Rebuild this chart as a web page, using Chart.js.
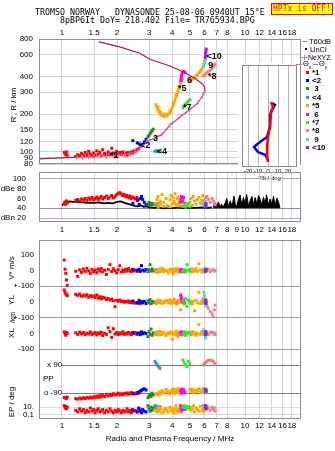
<!DOCTYPE html>
<html>
<head>
<meta charset="utf-8">
<title>Dynasonde ionogram</title>
<script src="https://cdn.jsdelivr.net/npm/chart.js@4.4.0/dist/chart.umd.min.js"></script>
<style>
  body { margin: 0; background: #fff; }
  #page { position: relative; width: 335px; height: 451px; overflow: hidden; background: #fff;
          font-family: "Liberation Sans", Arial, sans-serif; color: #000; }
  #page canvas { position: absolute; }
  .txt { position: absolute; white-space: pre; line-height: 1; }
  .mono { font-family: "DejaVu Sans Mono", monospace; }
</style>
</head>
<body>
<div id="page">
  <canvas id="mainChart" width="335" height="169" style="left:0;top:0"></canvas>
  <canvas id="tiltChart" width="62" height="120" style="left:238px;top:62px"></canvas>
  <canvas id="dbChart" width="335" height="68" style="left:0;top:168px"></canvas>
  <canvas id="lowerChart" width="335" height="215" style="left:0;top:236px"></canvas>
</div>
<script>
const FONT = '"Liberation Sans", Arial, sans-serif';

// axis ticks
const topFreqTicks = [1, 1.5, 2, 3, 4, 5, 6, 7, 8, 10, 12, 14, 16, 18];
const dbFreqTicks = [1, 1.5, 2, 3, 4, 5, 6, 7, 8, 9, 10, 12, 14, 16, 18];
const heightTicks = [80, 90, 100, 120, 150, 200, 300, 400, 600, 800];
const dbTicks = [20, 40, 60, 80, 100];
const dbTickLabels = ['dBn 20', '40', '60', 'dBe 80', '100'];
const tiltTicks = [-20, -10, 0, 10, 20];

// echo modes
const modeNames = ['*1', '<2', ' 3', '<4', '*5', ' 6', '*7', '*8', ' 9', '<10'];
const modeColors = ['#ff0000', '#0000ff', '#228b22', '#20a8a0', '#ffa500',
                    '#ff00ff', '#2ee82e', '#f08080', '#40e0d0', '#9a20e0'];

// echoes: frequency (MHz) per mode
const echoFreq = [
  [1.03,1.04,1.05,1.06,1.07, 1.19,1.22,1.25,1.28,1.31,1.34,1.37,1.40,1.43,1.46, 1.49,1.52,1.55,1.58,1.61,1.64,1.67,1.71,1.75,1.79,
   1.83,1.87,1.91,1.95,1.99,2.03,2.07,2.11,2.15,2.19, 2.23,2.27,2.31,2.35,2.39,2.43,2.47,2.52,2.57,2.62],
  [2.44,2.58,2.64,2.68,2.72,2.76,2.82,2.88],
  [2.95,2.99,3.03,3.07,3.11,3.15],
  [3.22,3.27,3.32,3.38,3.43],
  [3.26,3.30,3.35,3.40,3.45,3.52,3.60,3.70,3.80,3.89,3.95,4.00,4.05,4.10,4.15,4.20,4.25,4.30,4.35,4.40,4.45,4.50,4.55,
   3.35,3.45,3.60,3.75,3.90,4.05,4.20,4.35,
   5.00,5.08,5.15,5.22,5.30,5.40,5.50,5.60,5.70,5.80,5.88,5.95,6.00,6.05],
  [4.45,4.48,4.50,4.52,4.56,4.62,4.70],
  [4.58,4.66,4.74,4.82,4.90,5.00],
  [5.90,6.00,6.10,6.20,6.30,6.45,6.60,6.70,6.80,6.86],
  [5.95,6.00,6.03,6.06,6.09],
  [6.06,6.08,6.10,6.12,6.13]
];
// virtual range R' (km)
const echoRange = [
  [99,97,95,100,94, 92,95,93,97,94,99,95,101,96,93, 98,94,102,96,99,93,104,97,95,100,
   96,107,98,94,101,97,99,95,100,96, 98,94,99,97,100,98,102,101,104,106],
  [123,118,116,113,112,115,120,126],
  [132,136,140,144,148,152],
  [101,102,101,100,101],
  [238,228,218,208,200,195,192,193,197,205,215,226,238,250,262,275,290,305,320,336,352,368,384,
   228,210,200,201,214,246,285,330,
   368,375,382,390,396,404,414,428,442,458,480,505,530,555],
  [372,388,404,420,434,440,432],
  [226,232,240,248,255,262],
  [405,410,420,430,440,450,462,480,495,505],
  [485,505,525,545,565],
  [570,595,620,645,665]
];
// amplitude (dB)
const echoAmp = [
  [50,53,48,55,51, 56,58,55,59,57,60,56,61,58,62, 57,60,63,58,61,64,59,62,65,60,
   63,66,61,64,68,70,72,69,66,68, 64,66,62,65,60,63,61,59,62,58],
  [50,56,48,60,64,58,52,47],
  [48,52,46,50,47,49],
  [48,46,50,47,49],
  [50,58,64,46,55,68,52,60,44,57,66,49,62,54,70,47,59,63,51,56,45,61,53,
   42,48,44,46,43,50,47,45,
   52,60,46,64,55,48,58,62,50,56,66,49,54,45],
  [52,58,64,60,55,62,50],
  [44,48,42,46,50,43],
  [48,56,62,64,58,52,60,55,50,47],
  [46,52,48,54,50],
  [42,46,50,44,48]
];
// Doppler V* (m/s)
const echoVstar = [
  [66,8,-18,-60,-94, -5,-38,4,-12,10,-6,14,-3,-20,6, -8,3,-14,9,-4,12,-9,2,-25,7,
   37,-6,11,-2,-15,5,30,-10,3,-7, 8,-4,12,-2,-9,6,-3,4,-6,2],
  [4,-2,8,-6,31,2,-4,6],
  [-8,6,37,-4,10,-2],
  [-4,6,-10,2,-6],
  [-6,4,-12,8,-2,14,-8,2,-16,6,-4,10,-20,4,-6,12,-2,8,-10,2,6,-8,4,
   0,-4,6,-2,4,-6,2,-10,
   6,-4,10,-8,2,12,-6,43,4,-10,6,-2,8,-4],
  [2,-6,8,-2,4,-8,0],
  [-4,6,-10,37,2,-6],
  [4,-6,10,-2,8,-8,2,6,-4,0],
  [8,-10,4,-4,12],
  [2,-6,4,-2,6]
];
// location YL (km)
const echoYL = [
  [76,60,52,46,40, 48,42,50,36,44,38,46,30,40,34, 38,28,45,24,34,20,30,26,16,22,
   12,18,8,-30,10,4,12,2,6,-2, 4,0,6,-4,2,-6,-2,-8,-4,-10],
  [6,-4,10,-8,2,-6,4,-10],
  [8,-6,14,-12,4,-2],
  [4,-8,2,-4,6],
  [4,-8,12,-4,6,-12,2,10,-6,14,-10,4,-2,18,-8,6,-14,10,-4,8,-50,2,-6,
   0,6,-4,8,-2,4,-6,10,
   -8,6,-14,4,-56,10,-6,62,-10,4,-8,12,-2,6],
  [44,30,20,6,0,12,-6],
  [6,-12,20,-28,10,-4],
  [20,4,-10,-26,-40,-60,-76,-94,-50,-20],
  [62,40,10,-12,-26],
  [8,-4,14,-10,2]
];
// location XL (km)
const echoXL = [
  [10,-4,-12,6,0, 4,-6,8,-2,6,-8,2,-4,10,-6, 0,6,-10,4,-2,8,-14,2,-6,36,
   12,-25,30,-4,6,-8,4,-2,10,-6, 2,-4,6,0,-8,4,-2,6,-4,2],
  [6,-4,2,-8,10,-2,4,0],
  [-20,12,-6,28,-12,4],
  [2,-6,8,-2,4],
  [-4,8,-10,2,12,-6,4,-14,6,-2,10,-37,4,-8,2,14,-6,-20,6,-2,8,-10,4,
   2,-6,8,-4,6,-2,10,-8,
   4,-8,12,-4,6,-12,2,56,-6,10,-4,8,-10,2],
  [6,-4,10,-8,2,-2,4],
  [-6,10,-14,4,8,-2],
  [8,-4,12,2,-8,6,10,-2,4,-6],
  [24,10,-4,-18,-30],
  [6,-8,12,-4,2]
];
// polarization PP (deg)
const echoPP = [
  [-116,-120,-118,-122,-114, -124,-128,-120,-126,-118,-124,-116,-122,-114,-120,
   -112,-118,-108,-116,-104,-112,-100,-110,-98,-106, -96,-104,-92,-100,-96,-88,-100,-92,-98,-90,
   -94,-86,-96,-90,-84,-92,-88,-94,-86,-90],
  [-92,-86,-80,-76,-70,-64,-60,-68],
  [-118,-106,-96,-110,-88,-100],
  [120,108,96,84,74],
  [-96,-88,-100,-80,-92,-72,-86,-64,-78,-94,-70,-84,-60,-76,-90,-66,-82,-58,-74,-86,-68,-80,-62,
   -98,-90,-84,-76,-88,-70,-80,-74,
   -64,-78,-60,-72,-84,-66,-76,-58,-70,-82,-62,-74,-68,-80],
  [-70,-80,-62,-90,-74,-66,-84],
  [128,110,96,84,120,104],
  [96,104,112,120,126,128,124,118,110,100],
  [-60,-66,-74,-82,-88],
  [-62,-70,-78,-66,-74]
];
// phase error EP (deg)
const echoEP = [
  [12,9,11,8,10, 6,4,8,5,7,3,6,4,9,5, 7,3,6,8,4,5,7,3,6,4, 8,5,3,6,4,7,5,3,6,4, 5,8,4,6,3,7,5,6,4,9],
  [6,4,8,5,3,7,5,4],
  [12,8,5,10,6,9],
  [12,9,11,8,10],
  [6,4,9,5,11,3,7,8,4,10,6,5,9,3,7,12,4,8,6,5,10,4,7,
   5,8,4,6,9,3,7,5,
   10,6,8,12,4,9,7,5,11,6,8,4,9,7],
  [12,8,10,6,9,11,7],
  [10,12,9,11,8,10],
  [12,10,8,11,9,6,10,7,9,5],
  [12,11,10,12,9],
  [10,12,9,11,8]
];

// mode labels on the ionogram
const labelFreq = [1.83, 2.67, 3.14, 3.30, 4.30, 4.82, 4.58, 6.27, 6.30, 6.15];
const labelRange = [93, 112, 128, 100, 320, 375, 228, 400, 495, 575];

// true-height profile (plasma frequency MHz, height km)
const profileFreq = [0.75,1.07,1.6,2.1,2.45,2.67,2.91,3.22,3.52,3.89,4.41,5.00,5.54,5.85,6.04,
                     6.02,5.89,5.68,5.20,4.58,3.89,3.02,2.67,2.07,1.59];
const profileHeight = [88,90,92,95,99,107,121,129,138,164,190,218,248,280,311,
                       330,345,362,395,437,487,551,615,692,758];
// NeXYZ bottomside
const nexyzFreq = [1.20,1.30,1.40,1.50,1.62,1.75,1.90,2.05,2.20,2.35,2.50,2.67,2.91,3.22,3.52,3.89,4.41,5.00,5.54,5.85,6.04];
const nexyzHeight = [90,90,91,91,92,92,93,94,95,97,100,107,121,129,138,164,190,218,248,280,311];

// tilt inset
const tiltXDeg = [3,5,3,2,0,-1,-1,0];
const tiltXHeight = [261,239,215,168,140,117,98,90];
const tiltYDeg = [4,7,4,2,2,-1,-8,-14,-10,-3,0,0];
const tiltYHeight = [256,248,226,207,168,140,128,117,107,102,93,90];

// unclassified amplitude trace (dB)
const noiseFreqLow = [1.0,1.03,1.06,1.1,1.15,1.2,1.3,1.4,1.5,1.6,1.7,1.8,1.9,2.0,2.1,2.2,2.3,2.4,2.5,2.6,
                      2.7,2.8,2.9,3.0,3.2,3.4,3.6,3.8,4.0,4.3,4.6,5.0,5.4,5.8,6.2,6.6];
const noiseAmpLow = [46,49,52,54,53,53,52,51,51,52,50,51,50,53,54,51,49,47,45,44,
                     46,43,44,42,41,41,40,41,40,42,40,41,41,42,41,42];
const noiseFreqHigh = [6.7,6.85,7.0,7.15,7.3,7.45,7.6,7.8,7.95,8.1,8.3,8.5,8.7,8.85,9.0,9.2,9.4,9.6,9.8,10.0,
                       10.2,10.45,10.65,10.9,11.1,11.35,11.6,11.85,12.1,12.35,12.6,12.85,13.1,13.4,13.7,14.0,14.3,14.6,14.9,15.2,15.5];
const noiseAmpHigh = [42,52,44,53,43,48,42,52,60,44,55,45,65,47,43,58,67,46,62,50,
                      68,44,55,64,47,62,49,66,58,46,63,50,67,47,59,48,64,45,61,54,41];

// lower panel: stacked rows
const lowerTickRow = [0, 0, 0, 1, 1, 2, 2, 3, 3, 4, 4];
const lowerTickValue = [100, 0, -100, 0, -100, 0, -100, 90, -90, 10, 0.1];
const lowerTickText = ['100', '0', '+-100', '0', '+-100', '0', '-100', '', '', '10.', '0.1'];

const F_MIN = 0.75, F_MAX = 20.2;
const lowerRows = [
  { values: echoVstar, toSlot: v => 151 + v * 0.16 },
  { values: echoYL, toSlot: v => 119 + v * 0.16 },
  { values: echoXL, toSlot: v => 87 + v * 0.16 },
  { values: echoPP, toSlot: v => 40 + v * 14 / 90 },
  { values: echoEP, toSlot: v => 4 + v * 0.8 }
];
const lowerGrid = ['', '', '#9c9c9c', '', '#9c9c9c', '', '#9c9c9c', '#7c7c7c', '#7c7c7c', '#dadada', '#dadada'];

const pts = (xs, ys) => xs.map((x, i) => ({ x, y: ys[i] }));

const framePlugin = {
  id: 'frame',
  afterDatasetsDraw(chart, args, opts) {
    const { ctx, chartArea: a } = chart;
    ctx.save();
    ctx.strokeStyle = opts.color || '#8c8c8c';
    ctx.lineWidth = 1;
    ctx.strokeRect(Math.round(a.left) + 0.5, Math.round(a.top) + 0.5, Math.round(a.width) - 1, Math.round(a.height) - 1);
    ctx.restore();
  }
};

const whitePlugin = {
  id: 'whiteBack',
  beforeDraw(chart) {
    const c = chart.ctx;
    c.save();
    c.fillStyle = '#fff';
    c.fillRect(0, 0, chart.width, chart.height);
    c.restore();
  }
};

const modeLabelPlugin = {
  id: 'modeLabels',
  afterDatasetsDraw(chart) {
    const { ctx, scales: { x, y } } = chart;
    ctx.save();
    ctx.font = 'bold 9px ' + FONT;
    ctx.fillStyle = '#000';
    ctx.textBaseline = 'middle';
    modeNames.forEach((name, i) => {
      ctx.fillText(name.trim(), x.getPixelForValue(labelFreq[i]), y.getPixelForValue(labelRange[i]));
    });
    ctx.restore();
  }
};

function baseOptions(padding) {
  return {
    responsive: false,
    animation: false,
    events: [],
    layout: { padding },
    plugins: { legend: { display: false }, tooltip: { enabled: false }, frame: { color: '#8c8c8c' } }
  };
}

function freqAxis(position, tickValues, axisHeight, padding, extra = {}) {
  return Object.assign({
    type: 'logarithmic',
    position,
    min: F_MIN,
    max: F_MAX,
    afterBuildTicks: s => { s.ticks = tickValues.map(value => ({ value })); },
    afterFit: s => { s.height = axisHeight; s.paddingLeft = 0; s.paddingRight = 0; },
    ticks: { autoSkip: false, maxRotation: 0, padding, color: '#000',
             font: { family: FONT, size: 8 }, callback: v => String(v) },
    grid: { color: '#d4d4d4', drawTicks: false },
    border: { display: false }
  }, extra);
}

function leftAxis(cfg, padding) {
  return Object.assign({
    afterFit: s => { s.width = 39; s.paddingTop = 0; s.paddingBottom = 0; },
    border: { display: false }
  }, cfg, {
    ticks: Object.assign({ autoSkip: false, padding, color: '#000', font: { family: FONT, size: 8 } }, cfg.ticks)
  });
}

function modePoints(i, xs, ys, radius) {
  return {
    data: pts(xs, ys),
    pointStyle: 'rect',
    pointRadius: radius,
    pointBackgroundColor: modeColors[i],
    pointBorderWidth: 0,
    showLine: false,
    order: 20 - i
  };
}

// ---------- ionogram ----------
const mainDatasets = modeNames.map((n, i) => modePoints(i, echoFreq[i], echoRange[i], 2.1));
mainDatasets.push({
  data: pts(profileFreq, profileHeight), showLine: true, pointRadius: 0,
  borderColor: '#a41a4c', borderWidth: 1.2, order: 1
});
mainDatasets.push({
  data: pts(nexyzFreq, nexyzHeight), showLine: true, pointStyle: 'line', rotation: 90,
  pointRadius: 2.5, pointBorderColor: '#e8709c', pointBorderWidth: 1,
  borderColor: '#e8709c', borderWidth: 1, order: 0
});

new Chart(document.getElementById('mainChart'), {
  type: 'scatter',
  data: { datasets: mainDatasets },
  options: Object.assign(baseOptions({ left: 0, top: 0, right: 34, bottom: 0 }), {
    scales: {
      x: freqAxis('top', topFreqTicks, 39, 1),
      y: leftAxis({
        type: 'logarithmic', min: 80, max: 800,
        afterBuildTicks: s => { s.ticks = heightTicks.map(value => ({ value })); },
        ticks: { callback: v => String(v) },
        grid: { color: '#d4d4d4', drawTicks: false }
      }, 6)
    }
  }),
  plugins: [framePlugin, modeLabelPlugin]
});

// ---------- tilt inset ----------
new Chart(document.getElementById('tiltChart'), {
  type: 'scatter',
  data: {
    datasets: [
      { data: pts(tiltXDeg, tiltXHeight), showLine: true, pointRadius: 0, borderColor: '#ff0000', borderWidth: 2.5, order: 0 },
      { data: pts(tiltYDeg, tiltYHeight), showLine: true, pointRadius: 0, borderColor: '#0000ff', borderWidth: 2.5, order: 1 }
    ]
  },
  options: Object.assign(baseOptions({ left: 4, top: 3, right: 3, bottom: 0 }), {
    scales: {
      x: {
        type: 'linear', position: 'bottom', min: -26, max: 29,
        afterBuildTicks: s => { s.ticks = tiltTicks.map(value => ({ value })); },
        afterFit: s => { s.height = 15; s.paddingLeft = 0; s.paddingRight = 0; },
        ticks: { autoSkip: false, maxRotation: 0, padding: 1, color: '#000', font: { family: FONT, size: 6 }, callback: v => String(v) },
        grid: { color: '#b4b4b4', drawTicks: false },
        border: { display: false },
        title: { display: true, text: 'Tilt / deg', color: '#000', font: { family: FONT, size: 6 }, padding: 0 }
      },
      y: { type: 'logarithmic', min: 82, max: 504, display: false }
    }
  }),
  plugins: [whitePlugin, framePlugin]
});

// ---------- amplitude panel ----------
const dbDatasets = modeNames.map((n, i) => modePoints(i, echoFreq[i], echoAmp[i], 2.1));
dbDatasets.push({
  data: pts(noiseFreqLow, noiseAmpLow), showLine: true, pointRadius: 0,
  borderColor: '#000', borderWidth: 1.8, order: 40
});
dbDatasets.push({
  data: pts(noiseFreqHigh, noiseAmpHigh), showLine: true, pointRadius: 0,
  borderColor: '#000', borderWidth: 1, backgroundColor: '#000', fill: { value: 40 }, order: 41
});
const dbGrid = { 20: '#a8a8ec', 40: '#8c8c8c', 100: '#a8a8a8' };

new Chart(document.getElementById('dbChart'), {
  type: 'scatter',
  data: { datasets: dbDatasets },
  options: Object.assign(baseOptions({ left: 0, top: 2, right: 34, bottom: 0 }), {
    scales: {
      x: freqAxis('bottom', dbFreqTicks, 14, 3),
      y: leftAxis({
        type: 'linear', min: 12, max: 114,
        afterBuildTicks: s => { s.ticks = dbTicks.map(value => ({ value })); },
        ticks: { callback: v => dbTickLabels[dbTicks.indexOf(v)] },
        grid: { color: c => dbGrid[c.tick.value] || 'rgba(0,0,0,0)', drawTicks: false }
      }, 13)
    }
  }),
  plugins: [framePlugin]
});

// ---------- Doppler / location / polarization panel ----------
const lowerSlots = lowerTickRow.map((r, i) => lowerRows[r].toSlot(lowerTickValue[i]));
const lowerDatasets = modeNames.map((n, i) => {
  const xs = [], ys = [];
  lowerRows.forEach(row => {
    row.values[i].forEach((v, k) => { xs.push(echoFreq[i][k]); ys.push(row.toSlot(v)); });
  });
  return modePoints(i, xs, ys, 2.1);
});

new Chart(document.getElementById('lowerChart'), {
  type: 'scatter',
  data: { datasets: lowerDatasets },
  options: Object.assign(baseOptions({ left: 0, top: 1, right: 34, bottom: 0 }), {
    scales: {
      x: freqAxis('bottom', topFreqTicks, 32, 2, {
        title: { display: true, text: 'Radio and Plasma Frequency / MHz', color: '#000',
                 font: { family: FONT, size: 8 }, padding: { top: 2, bottom: 7 } }
      }),
      y: leftAxis({
        type: 'linear', min: 0, max: 182,
        afterBuildTicks: s => { s.ticks = lowerSlots.map(value => ({ value })); },
        ticks: { callback: (v, idx) => lowerTickText[idx] },
        grid: { color: c => lowerGrid[c.index] || 'rgba(0,0,0,0)', drawTicks: false }
      }, 5)
    }
  }),
  plugins: [framePlugin]
});

// ---------- text overlays ----------
const page = document.getElementById('page');
function addText(text, x, y, opts = {}) {
  const d = document.createElement('div');
  d.className = 'txt' + (opts.mono ? ' mono' : '');
  if (opts.html) d.innerHTML = text; else d.textContent = text;
  d.style.fontSize = (opts.size || 8) + 'px';
  if (opts.bold) d.style.fontWeight = 'bold';
  if (opts.color) d.style.color = opts.color;
  if (opts.bg) d.style.background = opts.bg;
  page.appendChild(d);
  const w = d.offsetWidth, h = d.offsetHeight;
  let left = x;
  if (opts.align === 'c' || opts.rotate) left = x - w / 2;
  else if (opts.align === 'r') left = x - w;
  d.style.left = left + 'px';
  d.style.top = (y - h / 2) + 'px';
  if (opts.rotate) d.style.transform = 'rotate(-90deg)';
  return d;
}
function addBox(x, y, w, h, color) {
  const d = document.createElement('div');
  d.style.cssText = `position:absolute;left:${x}px;top:${y}px;width:${w}px;height:${h}px;background:${color}`;
  page.appendChild(d);
}
// label sitting inside the plot, masking the grid line from the frame up to its right edge
function addInnerLabel(text, right, y) {
  const d = addText(text, right, y, { size: 8, align: 'r', bg: '#fff' });
  const w = d.offsetWidth;
  d.style.paddingLeft = Math.max(0, right - 40 - w) + 'px';
  d.style.left = '40px';
}

addText('TROMSO NORWAY   DYNASONDE 25-08-06 0940UT 15°E', 35, 12, { mono: true, size: 8.3 });
addText('8pBP6It DoY= 218.402 File= TR765934.BPG', 60, 20, { mono: true, size: 8.3 });
const hp = addText('HPTx is OFF!', 302, 8.5, { mono: true, size: 8, color: '#ff0000', bg: '#ffff00', align: 'c' });
hp.style.border = '1px solid #ff0000';
hp.style.padding = '1px 1px';
hp.style.left = (302 - hp.offsetWidth / 2) + 'px';
hp.style.top = (8.5 - hp.offsetHeight / 2) + 'px';

// legend
addBox(302, 41, 6, 1, '#a0a0a0');
addText('T60dB', 309, 41.5, { size: 7.5 });
addBox(305, 48, 2, 2, '#000');
addText('UnCl', 310, 49.5, { size: 7.5 });
addBox(301, 57, 7, 1, '#e8709c');
addBox(304, 55, 1, 5, '#e8709c');
addText('NeXYZ', 308, 57.5, { size: 7 });
addBox(296, 64, 6, 1, '#e8709c');
addText('Θ<sub style="font-size:5px">x</sub>', 303, 64.5, { html: true, size: 7.5 });
addBox(313, 64, 5, 1, '#8080ff');
addText('Θ<sub style="font-size:5px">y</sub>', 319, 64.5, { html: true, size: 7.5 });
modeNames.forEach((name, i) => {
  const y = 72 + i * 8.4;
  addBox(306, y - 1.5, 3, 3, modeColors[i]);
  addText(name, 312, y + 0.5, { size: 8, bold: true });
});

// axis titles
addText("R', R / km", 14, 105, { size: 8, rotate: true });
addText('V* m/s', 12, 268, { size: 8, rotate: true });
addText('YL', 12, 300, { size: 8, rotate: true });
addText('/km', 12, 317, { size: 7, rotate: true });
addText('XL', 12, 333, { size: 8, rotate: true });
addText('EP / deg', 12, 402, { size: 8, rotate: true });
addText('PP', 43, 379, { size: 8 });
addInnerLabel('x 90', 62, 365);
addInnerLabel('o -90', 62, 393);
</script>
</body>
</html>
